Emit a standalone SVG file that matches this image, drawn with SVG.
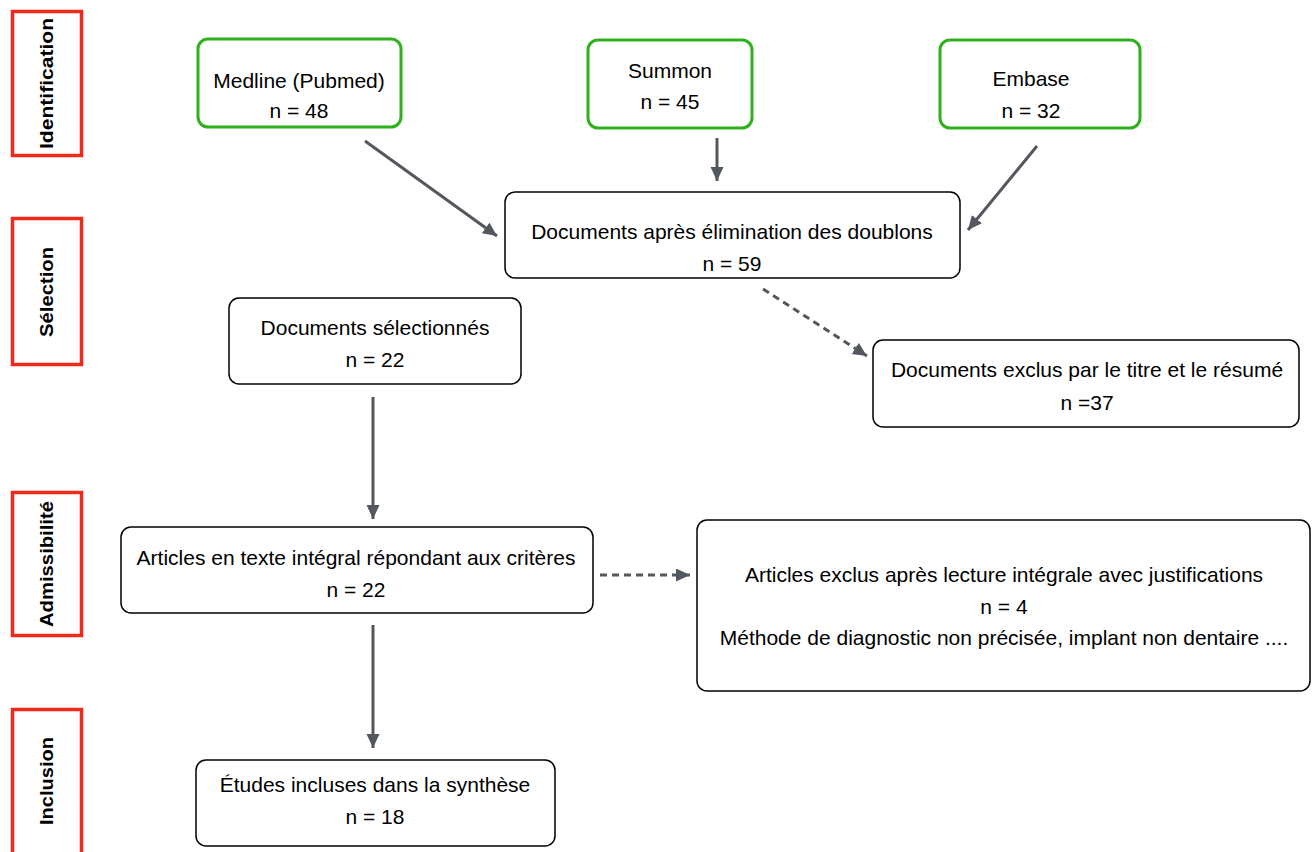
<svg xmlns="http://www.w3.org/2000/svg" width="1316" height="852" viewBox="0 0 1316 852">
<style>
  .bg { fill: #ffffff; }
  .phase { fill: none; stroke: #ee2a1a; stroke-width: 3.5; }
  .phase-t { font-family: "Liberation Sans", Arial, sans-serif; font-weight: bold; font-size: 18px; fill: #000; text-anchor: middle; }
  .src { fill: #ffffff; stroke: #2fb11c; stroke-width: 3; }
  .box { fill: #ffffff; stroke: #000000; stroke-width: 1.5; }
  .t { font-family: "Liberation Sans", Arial, sans-serif; font-size: 21px; fill: #000; text-anchor: middle; }
  .conn { stroke: #53575e; stroke-width: 3; fill: none; }
  .dash { stroke-dasharray: 7 5; }
</style>
<defs>
  <marker id="ah" markerUnits="userSpaceOnUse" markerWidth="16" markerHeight="14" refX="14" refY="6.5" orient="auto">
    <path d="M0,0 L14,6.5 L0,13 Z" fill="#53575e"/>
  </marker>
</defs>
<rect class="bg" x="0" y="0" width="1316" height="852"/>

<g id="phase-identification">
  <rect class="phase" x="12.5" y="11.5" width="69" height="144"/>
  <text class="phase-t" transform="translate(53,83.5) rotate(-90)" textLength="131" lengthAdjust="spacingAndGlyphs">Identification</text>
</g>
<g id="phase-selection">
  <rect class="phase" x="12.5" y="218.5" width="69" height="146"/>
  <text class="phase-t" transform="translate(53,292) rotate(-90)" textLength="90" lengthAdjust="spacingAndGlyphs">Sélection</text>
</g>
<g id="phase-admissibilite">
  <rect class="phase" x="12.5" y="492.5" width="69" height="143"/>
  <text class="phase-t" transform="translate(53,564) rotate(-90)" textLength="126" lengthAdjust="spacingAndGlyphs">Admissibilité</text>
</g>
<g id="phase-inclusion">
  <rect class="phase" x="12.5" y="709.5" width="69" height="150"/>
  <text class="phase-t" transform="translate(53,781) rotate(-90)" textLength="88" lengthAdjust="spacingAndGlyphs">Inclusion</text>
</g>

<g id="connectors">
  <line class="conn" x1="365" y1="141" x2="497" y2="236" marker-end="url(#ah)"/>
  <line class="conn" x1="717" y1="138" x2="717" y2="181" marker-end="url(#ah)"/>
  <line class="conn" x1="1037" y1="146" x2="968" y2="230" marker-end="url(#ah)"/>
  <line class="conn dash" x1="763" y1="289" x2="867" y2="356" marker-end="url(#ah)"/>
  <line class="conn" x1="373" y1="397" x2="373" y2="519" marker-end="url(#ah)"/>
  <line class="conn dash" x1="600" y1="575" x2="690" y2="575" marker-end="url(#ah)"/>
  <line class="conn" x1="373" y1="625" x2="373" y2="748" marker-end="url(#ah)"/>
</g>

<g id="medline">
  <rect class="src" x="198" y="39" width="203" height="88" rx="10"/>
  <text class="t" x="299" y="88">Medline (Pubmed)</text>
  <text class="t" x="299" y="118">n = 48</text>
</g>
<g id="summon">
  <rect class="src" x="588" y="40" width="164" height="88" rx="10"/>
  <text class="t" x="670" y="78">Summon</text>
  <text class="t" x="670" y="109">n = 45</text>
</g>
<g id="embase">
  <rect class="src" x="940" y="40" width="200" height="88" rx="10"/>
  <text class="t" x="1031" y="86">Embase</text>
  <text class="t" x="1031" y="118">n = 32</text>
</g>
<g id="apres-doublons">
  <rect class="box" x="505" y="192" width="455" height="86" rx="10"/>
  <text class="t" x="732" y="239">Documents après élimination des doublons</text>
  <text class="t" x="732" y="271">n = 59</text>
</g>
<g id="selectionnes">
  <rect class="box" x="229" y="298" width="292" height="86" rx="10"/>
  <text class="t" x="375" y="335">Documents sélectionnés</text>
  <text class="t" x="375" y="367">n = 22</text>
</g>
<g id="exclus-titre">
  <rect class="box" x="873" y="340" width="426" height="87" rx="10"/>
  <text class="t" x="1087" y="377">Documents exclus par le titre et le résumé</text>
  <text class="t" x="1087" y="410">n =37</text>
</g>
<g id="texte-integral">
  <rect class="box" x="121" y="527" width="472" height="86" rx="10"/>
  <text class="t" x="356" y="565">Articles en texte intégral répondant aux critères</text>
  <text class="t" x="356" y="597">n = 22</text>
</g>
<g id="exclus-lecture">
  <rect class="box" x="697" y="520" width="613" height="171" rx="10"/>
  <text class="t" x="1004" y="582">Articles exclus après lecture intégrale avec justifications</text>
  <text class="t" x="1004" y="614">n = 4</text>
  <text class="t" x="1004" y="645">Méthode de diagnostic non précisée, implant non dentaire ....</text>
</g>
<g id="etudes-incluses">
  <rect class="box" x="196" y="760" width="359" height="86" rx="10"/>
  <text class="t" x="375" y="792">Études incluses dans la synthèse</text>
  <text class="t" x="375" y="824">n = 18</text>
</g>
</svg>
